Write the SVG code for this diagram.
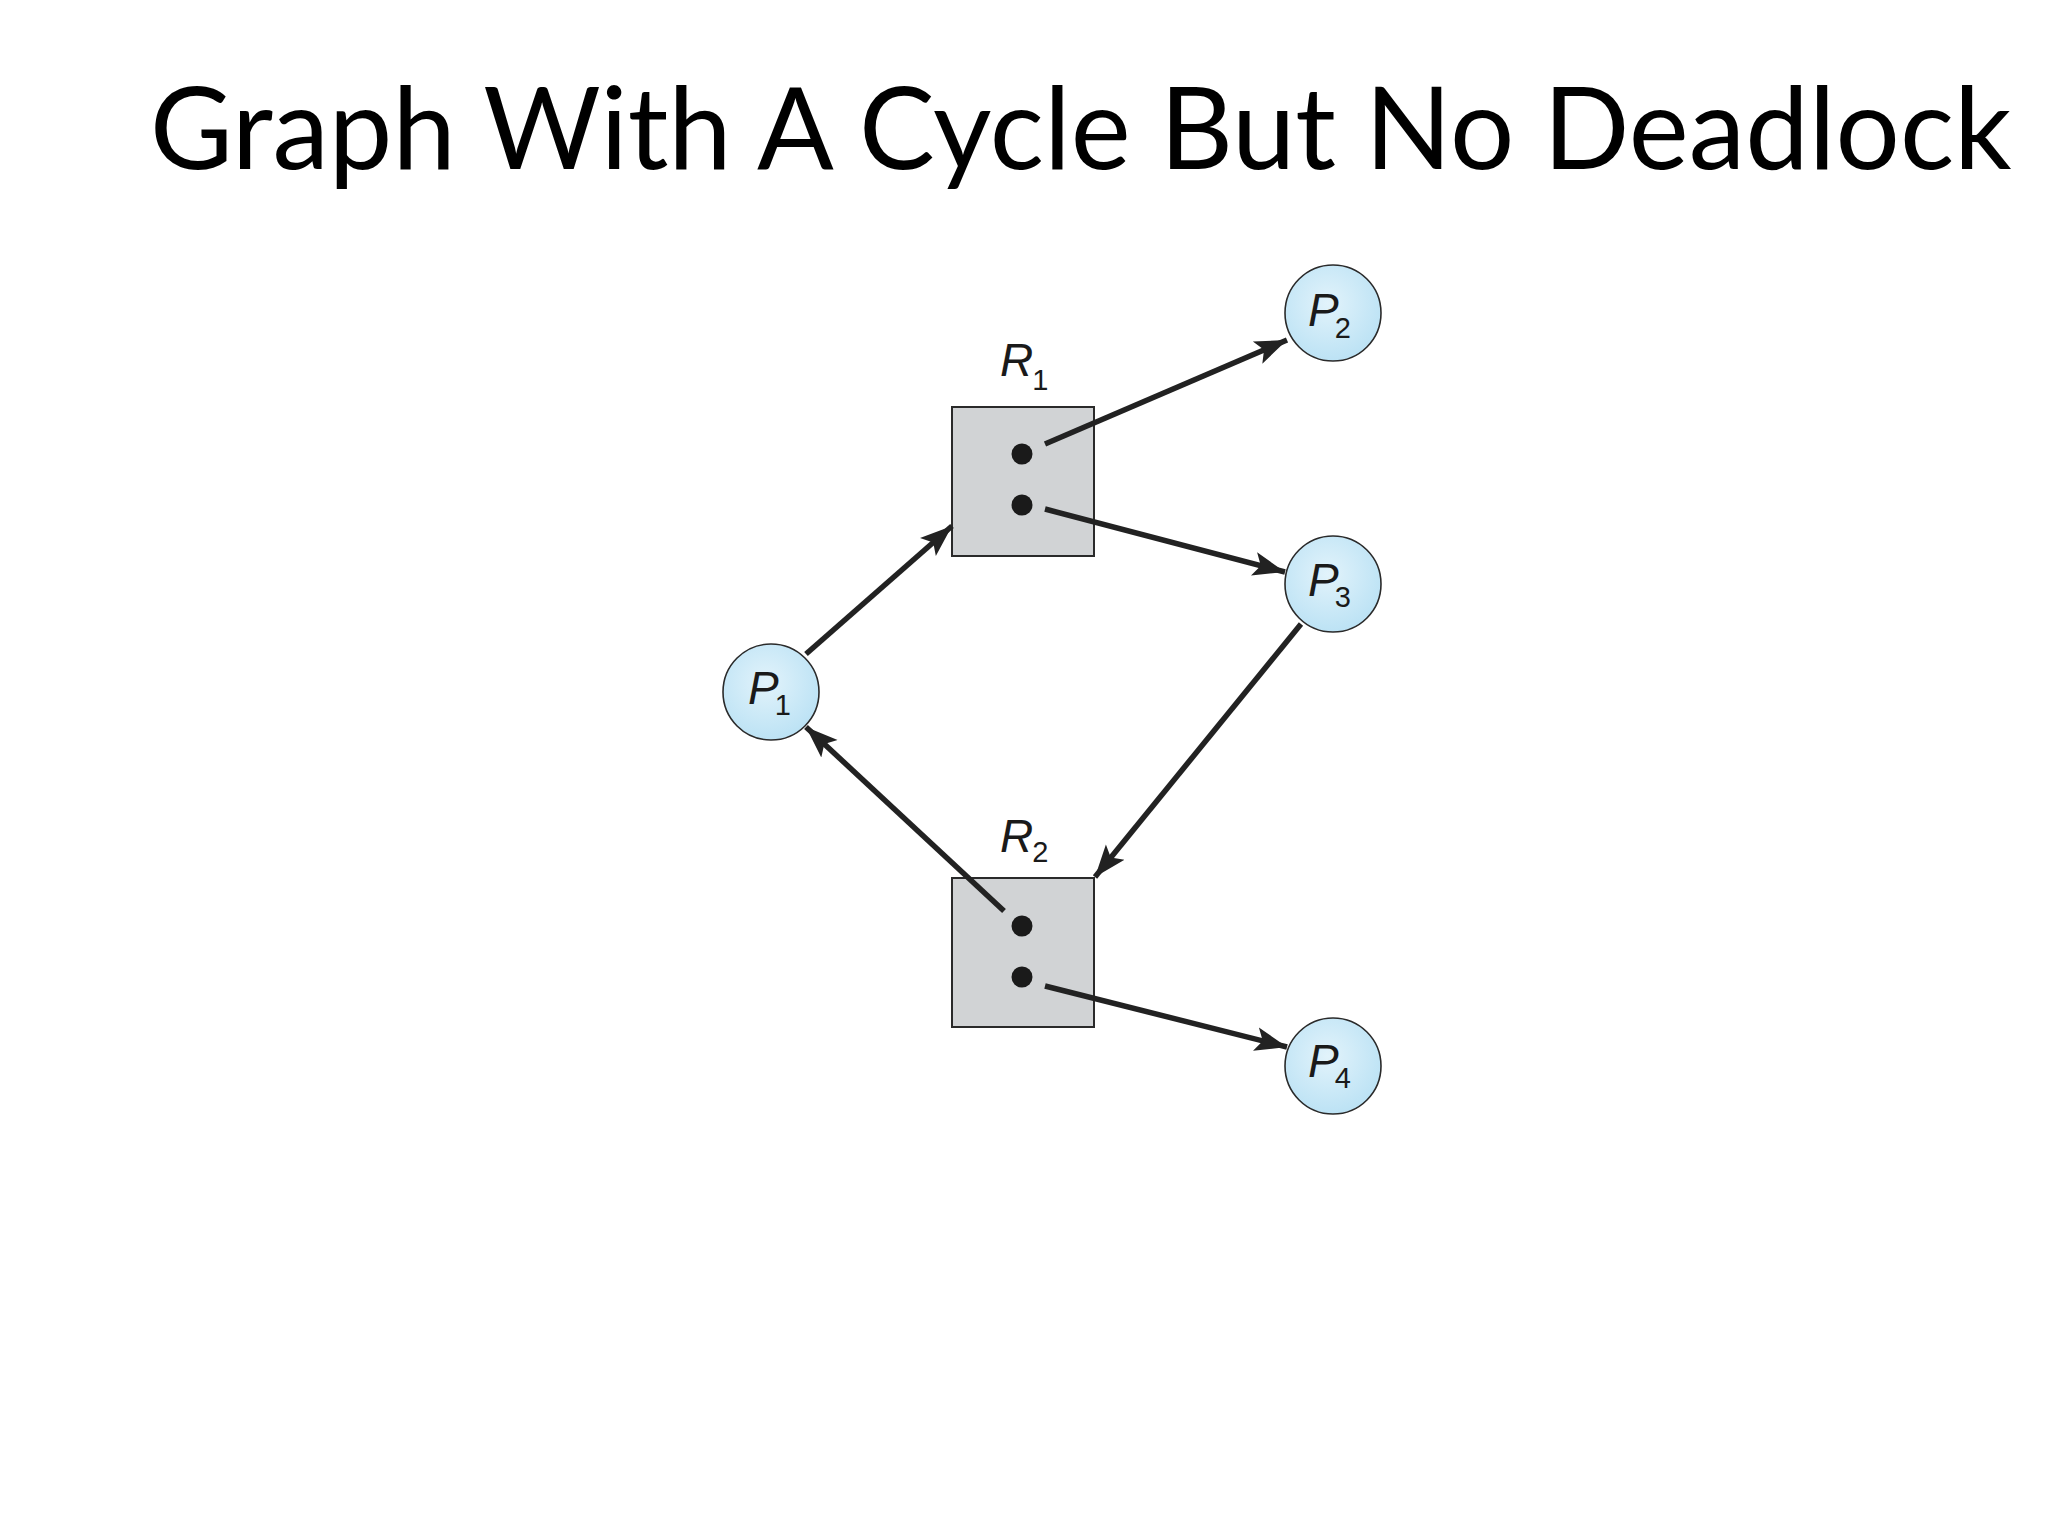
<svg xmlns="http://www.w3.org/2000/svg" width="2048" height="1536" viewBox="0 0 2048 1536">
<defs>
<radialGradient id="pg" cx="45%" cy="40%" r="65%">
<stop offset="0" stop-color="#e2f3fb"/>
<stop offset="1" stop-color="#b9e1f4"/>
</radialGradient>
<marker id="ah" markerUnits="userSpaceOnUse" markerWidth="34" markerHeight="28" viewBox="0 0 34 28" refX="32" refY="14" orient="auto">
<path d="M0,2 L32,14 L0,26 L7,14 Z" fill="#222"/>
</marker>
<style>
.title{font-family:Lato,"Open Sans","Liberation Sans",sans-serif;font-size:113.5px;fill:#000}
.res{fill:#d1d3d5;stroke:#2a2a2a;stroke-width:2}
.proc{fill:url(#pg);stroke:#2a2a2a;stroke-width:1.6}
.dot{fill:#1a1a1a}
.lbl{font-family:"Liberation Sans",Arial,sans-serif;font-style:italic;font-size:46px;fill:#1a1a1a}
.sub{font-family:"Liberation Sans",Arial,sans-serif;font-size:29px;fill:#1a1a1a}
.edge{stroke:#222;stroke-width:5.5;fill:none;marker-end:url(#ah)}
</style>
</defs>
<rect width="2048" height="1536" fill="#fff"/>
<text class="title" x="150" y="169">Graph With A Cycle But No Deadlock</text>
<g id="R1">
<rect class="res" x="952" y="407" width="142" height="149"/>
<circle class="dot" cx="1022" cy="454" r="10.5"/>
<circle class="dot" cx="1022" cy="505" r="10.5"/>
<text x="1000" y="376"><tspan class="lbl">R</tspan><tspan class="sub" dx="-1" dy="14">1</tspan></text>
</g>
<g id="R2">
<rect class="res" x="952" y="878" width="142" height="149"/>
<circle class="dot" cx="1022" cy="926" r="10.5"/>
<circle class="dot" cx="1022" cy="977" r="10.5"/>
<text x="1000" y="852"><tspan class="lbl">R</tspan><tspan class="sub" dx="-1" dy="10">2</tspan></text>
</g>
<g id="P1">
<circle class="proc" cx="771" cy="692" r="48"/>
<text x="748" y="704"><tspan class="lbl">P</tspan><tspan class="sub" dx="-4" dy="11">1</tspan></text>
</g>
<g id="P2">
<circle class="proc" cx="1333" cy="313" r="48"/>
<text x="1308" y="326"><tspan class="lbl">P</tspan><tspan class="sub" dx="-4" dy="12">2</tspan></text>
</g>
<g id="P3">
<circle class="proc" cx="1333" cy="584" r="48"/>
<text x="1308" y="596"><tspan class="lbl">P</tspan><tspan class="sub" dx="-4" dy="11">3</tspan></text>
</g>
<g id="P4">
<circle class="proc" cx="1333" cy="1066" r="48"/>
<text x="1308" y="1077"><tspan class="lbl">P</tspan><tspan class="sub" dx="-4" dy="11">4</tspan></text>
</g>
<g id="connectors">
<line class="edge" x1="1045" y1="444" x2="1287" y2="340"/>
<line class="edge" x1="1045" y1="509" x2="1285" y2="572"/>
<line class="edge" x1="806" y1="654" x2="952" y2="526"/>
<line class="edge" x1="1301" y1="624" x2="1095" y2="877"/>
<line class="edge" x1="1004" y1="911" x2="806" y2="727"/>
<line class="edge" x1="1045" y1="986" x2="1287" y2="1047"/>
</g>
</svg>
